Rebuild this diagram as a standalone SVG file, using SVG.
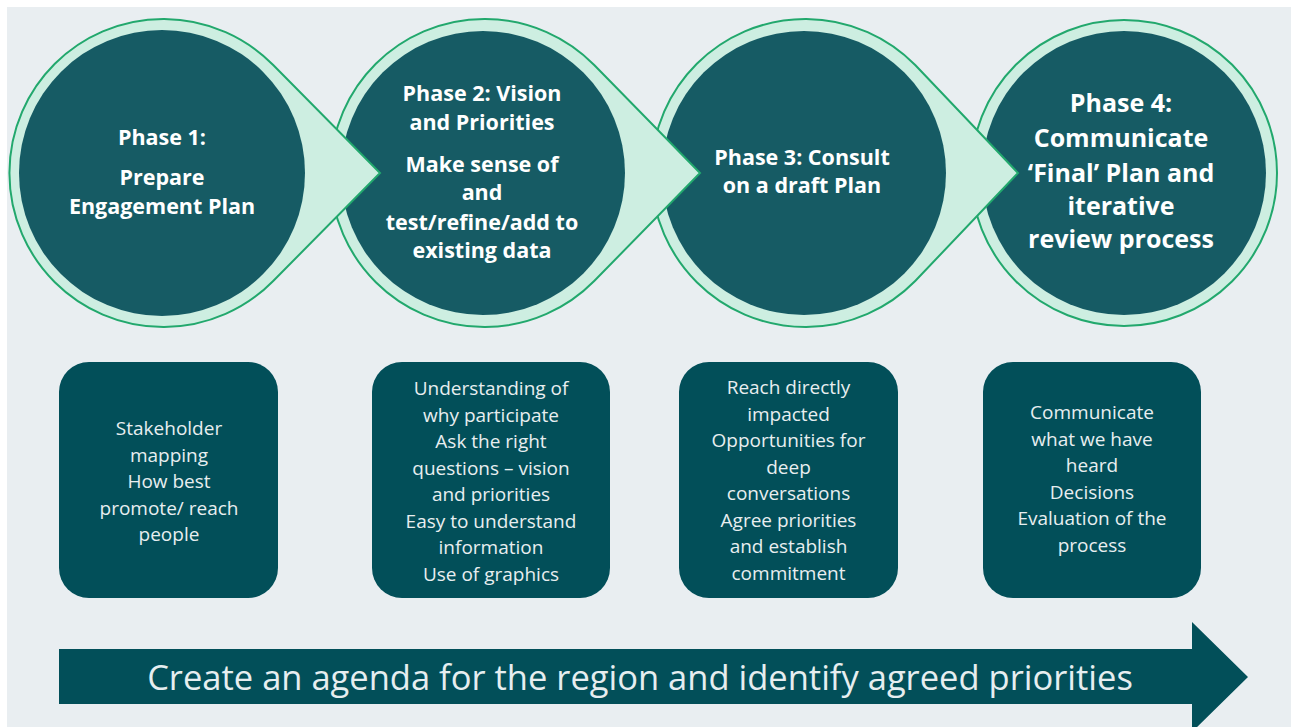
<svg xmlns="http://www.w3.org/2000/svg" width="1291" height="727" viewBox="0 0 1291 727">
<style>
.ring{fill:#CDEEE1;stroke:#22A86D;stroke-width:2}
.core{fill:#165B64}
.ct{font-family:"Open Sans","Liberation Sans",sans-serif;font-weight:700;fill:#FFFFFF;text-anchor:middle;font-size:21.5px}
.ct4{font-size:25px}
.box{fill:#024F59}
.bt{font-family:"Open Sans","Liberation Sans",sans-serif;font-size:19px;fill:#E8EEF0;text-anchor:middle}
.at{font-family:"Open Sans","Liberation Sans",sans-serif;font-size:34.5px;fill:#E6EEF0;text-anchor:middle}
</style>
<rect x="0" y="0" width="1291" height="727" fill="#FFFFFF"/>
<rect x="7" y="7" width="1284" height="720" fill="#E9EEF1"/>

<g id="phase4">
<circle class="ring" cx="1124" cy="173" r="153"/>
<circle class="core" cx="1124" cy="173" r="142"/>
<text class="ct ct4" x="1121" y="112">Phase 4:</text>
<text class="ct ct4" x="1121" y="147">Communicate</text>
<text class="ct ct4" x="1121" y="182">‘Final’ Plan and</text>
<text class="ct ct4" x="1121" y="215">iterative</text>
<text class="ct ct4" x="1121" y="248">review process</text>
</g>

<g id="phase3">
<path class="ring" d="M915.2,65 L1018,173 L915.2,281 A154 154 0 1 1 915.2,65 Z"/>
<circle class="core" cx="804" cy="173" r="142"/>
<text class="ct" x="802" y="165">Phase 3: Consult</text>
<text class="ct" x="802" y="193">on a draft Plan</text>
</g>

<g id="phase2">
<path class="ring" d="M594.2,65 L700,173 L594.2,281 A154 154 0 1 1 594.2,65 Z"/>
<circle class="core" cx="483" cy="173" r="142"/>
<text class="ct" x="482" y="101">Phase 2: Vision</text>
<text class="ct" x="482" y="130">and Priorities</text>
<text class="ct" x="482" y="172">Make sense of</text>
<text class="ct" x="482" y="200">and</text>
<text class="ct" x="482" y="230">test/refine/add to</text>
<text class="ct" x="482" y="258">existing data</text>
</g>

<g id="phase1">
<path class="ring" d="M273.2,65 L380,173 L273.2,281 A154 154 0 1 1 273.2,65 Z"/>
<circle class="core" cx="162" cy="173" r="143"/>
<text class="ct" x="162" y="145">Phase 1:</text>
<text class="ct" x="162" y="185">Prepare</text>
<text class="ct" x="162" y="214">Engagement Plan</text>
</g>

<g id="box1">
<rect class="box" x="59" y="362" width="219" height="236" rx="30"/>
<text class="bt" x="169" y="435">Stakeholder</text>
<text class="bt" x="169" y="462">mapping</text>
<text class="bt" x="169" y="488">How best</text>
<text class="bt" x="169" y="515">promote/ reach</text>
<text class="bt" x="169" y="541">people</text>
</g>

<g id="box2">
<rect class="box" x="372" y="362" width="238" height="236" rx="30"/>
<text class="bt" x="491" y="395">Understanding of</text>
<text class="bt" x="491" y="421.5">why participate</text>
<text class="bt" x="491" y="448">Ask the right</text>
<text class="bt" x="491" y="474.5">questions – vision</text>
<text class="bt" x="491" y="501">and priorities</text>
<text class="bt" x="491" y="527.5">Easy to understand</text>
<text class="bt" x="491" y="554">information</text>
<text class="bt" x="491" y="580.5">Use of graphics</text>
</g>

<g id="box3">
<rect class="box" x="679" y="362" width="219" height="236" rx="30"/>
<text class="bt" x="788.5" y="394">Reach directly</text>
<text class="bt" x="788.5" y="420.5">impacted</text>
<text class="bt" x="788.5" y="447">Opportunities for</text>
<text class="bt" x="788.5" y="473.5">deep</text>
<text class="bt" x="788.5" y="500">conversations</text>
<text class="bt" x="788.5" y="526.5">Agree priorities</text>
<text class="bt" x="788.5" y="553">and establish</text>
<text class="bt" x="788.5" y="579.5">commitment</text>
</g>

<g id="box4">
<rect class="box" x="983" y="362" width="218" height="236" rx="30"/>
<text class="bt" x="1092" y="419">Communicate</text>
<text class="bt" x="1092" y="445.5">what we have</text>
<text class="bt" x="1092" y="472">heard</text>
<text class="bt" x="1092" y="498.5">Decisions</text>
<text class="bt" x="1092" y="525">Evaluation of the</text>
<text class="bt" x="1092" y="551.5">process</text>
</g>

<g id="connectors">
<polygon points="59,649 1192,649 1192,622 1248,677 1192,732 1192,704 59,704" fill="#024F59"/>
<text class="at" x="640" y="690">Create an agenda for the region and identify agreed priorities</text>
</g>
</svg>
